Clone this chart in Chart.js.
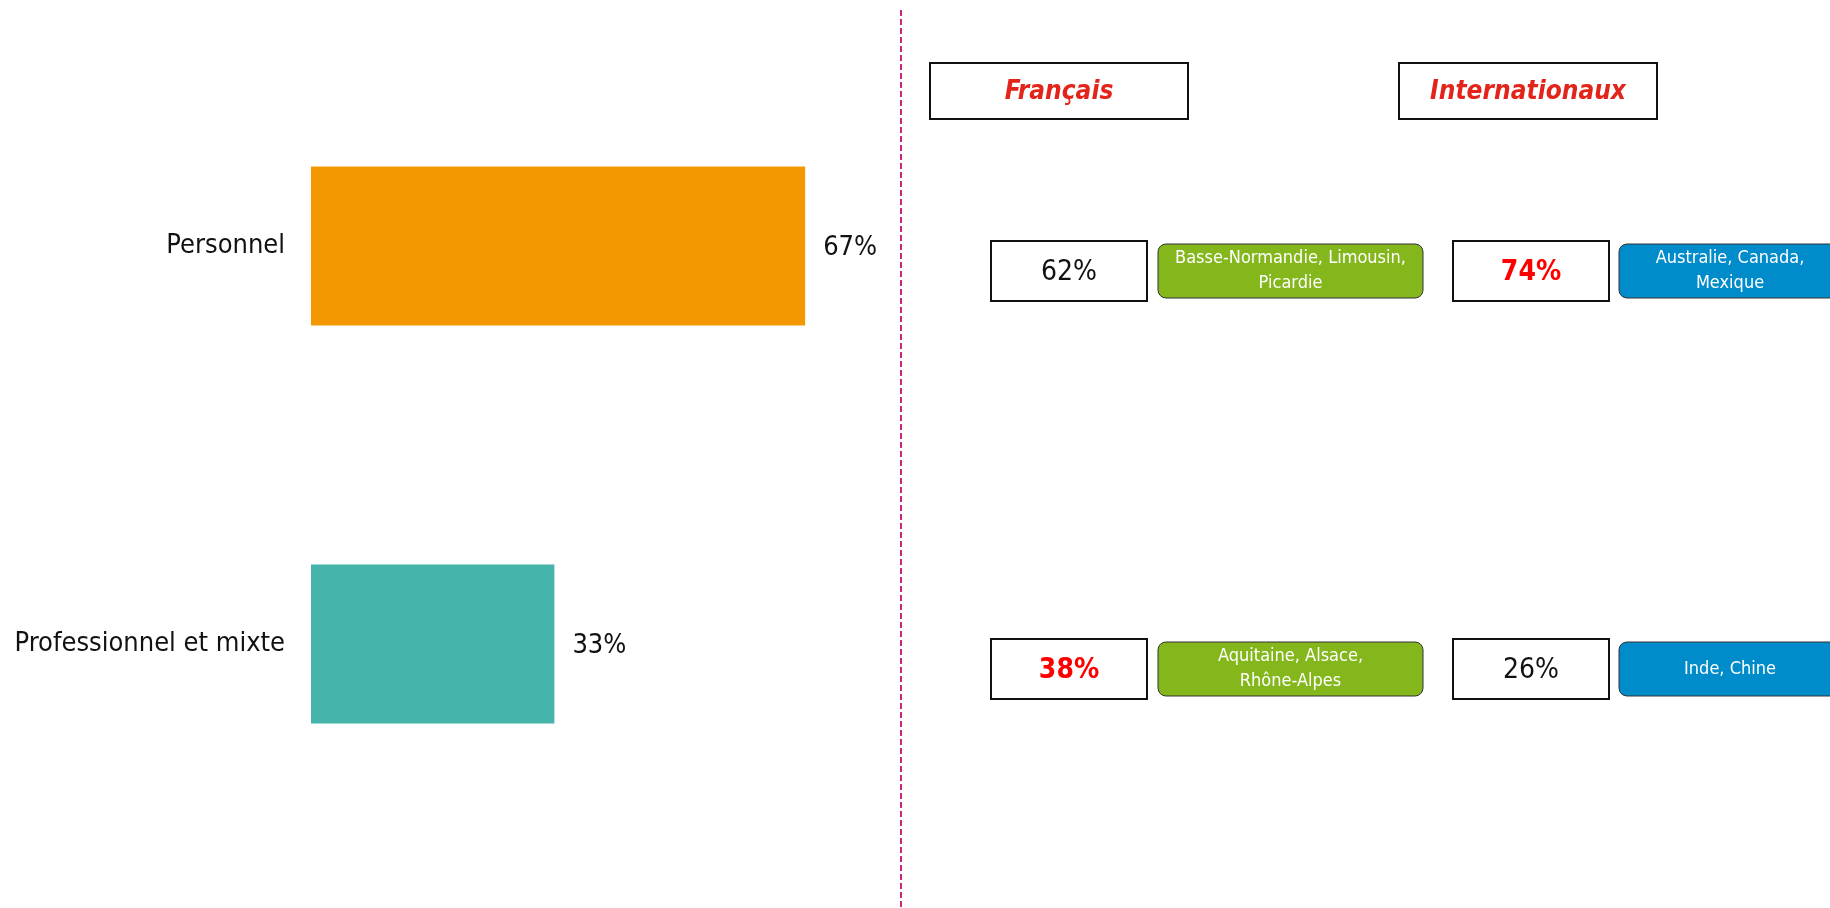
<!DOCTYPE html>
<html lang="fr">
<head>
<meta charset="UTF-8">
<title>Chart</title>
<script src="https://cdn.jsdelivr.net/npm/chart.js@4.4.1/dist/chart.umd.min.js"></script>
<style>
  body { margin: 0; background: #fff; }
  #wrap { width: 1830px; height: 908px; }
</style>
</head>
<body>
<div id="wrap"><canvas id="myChart" width="1830" height="908"></canvas></div>
<script>
// left chart
const categories = ['Personnel', 'Professionnel et mixte'];
const shares = [67, 33];
const barColors = ['#f39800', '#45b5ab'];

// right panel
const groups = ['Français', 'Internationaux'];
const frValues = [62, 38];
const frRegions = [['Basse-Normandie, Limousin,', 'Picardie'], ['Aquitaine, Alsace,', 'Rhône-Alpes']];
const intlValues = [74, 26];
const intlCountries = [['Australie, Canada,', 'Mexique'], ['Inde, Chine']];

const FONT = "'DejaVu Sans Condensed', 'Liberation Sans Narrow', 'DejaVu Sans', sans-serif";

// percent labels at the end of each bar
const valueLabels = {
    id: 'valueLabels',
    afterDatasetsDraw(chart) {
        const ctx = chart.ctx;
        const meta = chart.getDatasetMeta(0);
        ctx.save();
        ctx.font = '27px ' + FONT;
        ctx.fillStyle = '#111';
        ctx.textAlign = 'left';
        ctx.textBaseline = 'middle';
        meta.data.forEach((bar, i) => {
            ctx.fillText(shares[i] + '%', bar.x + 18, bar.y + 2);
        });
        ctx.restore();
    }
};

function box(ctx, x, y, w, h, r, fill, stroke, lw) {
    ctx.beginPath();
    if (r > 0) ctx.roundRect(x, y, w, h, r); else ctx.rect(x, y, w, h);
    if (fill) { ctx.fillStyle = fill; ctx.fill(); }
    if (stroke) { ctx.strokeStyle = stroke; ctx.lineWidth = lw; ctx.stroke(); }
}

// divider + comparison boxes on the right
const panel = {
    id: 'panel',
    afterDraw(chart) {
        const ctx = chart.ctx;
        const yScale = chart.scales.y;
        const left = chart.chartArea.right;
        ctx.save();

        ctx.strokeStyle = '#c9287f';
        ctx.lineWidth = 2;
        ctx.setLineDash([6, 3]);
        ctx.beginPath();
        ctx.moveTo(left, 10);
        ctx.lineTo(left, chart.height);
        ctx.stroke();
        ctx.setLineDash([]);

        const cols = [
            { head: 29, value: 90, tag: 257, tagW: 265, values: frValues, tags: frRegions, color: '#84b71c' },
            { head: 498, value: 552, tag: 718, tagW: 222, values: intlValues, tags: intlCountries, color: '#008bca' }
        ];

        cols.forEach((c, k) => {
            box(ctx, left + c.head, 63, 258, 56, 0, '#fff', '#111', 2);
            ctx.font = 'italic bold 26px ' + FONT;
            ctx.fillStyle = '#e3241b';
            ctx.textAlign = 'center';
            ctx.textBaseline = 'middle';
            ctx.fillText(groups[k], left + c.head + 129, 92);

            categories.forEach((cat, i) => {
                const cy = yScale.getPixelForValue(i) + 25;
                const other = cols[1 - k].values[i];
                const win = c.values[i] > other;

                box(ctx, left + c.value, cy - 30, 156, 60, 0, '#fff', '#111', 2);
                ctx.font = (win ? 'bold ' : '') + '28px ' + FONT;
                ctx.fillStyle = win ? '#ff0000' : '#111';
                ctx.textAlign = 'center';
                ctx.fillText(c.values[i] + '%', left + c.value + 78, cy + 2);

                box(ctx, left + c.tag, cy - 27, c.tagW, 54, 8, c.color, '#333', 1);
                ctx.font = '18px ' + FONT;
                ctx.fillStyle = '#fff';
                const lines = c.tags[i];
                lines.forEach((t, j) => {
                    ctx.fillText(t, left + c.tag + c.tagW / 2, cy + (j - (lines.length - 1) / 2) * 25);
                });
            });
        });
        ctx.restore();
    }
};

const ctx = document.getElementById('myChart').getContext('2d');
const myChart = new Chart(ctx, {
    type: 'bar',
    data: {
        labels: categories,
        datasets: [{
            data: shares,
            backgroundColor: barColors,
            borderWidth: 0,
            barPercentage: 0.4,
            categoryPercentage: 1
        }]
    },
    options: {
        indexAxis: 'y',
        responsive: false,
        animation: false,
        devicePixelRatio: 1,
        layout: { padding: { left: 0, right: 929, top: 47, bottom: 65 } },
        plugins: { legend: { display: false }, tooltip: { enabled: false } },
        scales: {
            x: { min: 0, max: 80, display: false },
            y: {
                grid: { display: false, drawTicks: false },
                border: { display: false },
                afterFit(scale) { scale.width = 311; },
                ticks: { padding: 26, color: '#111', font: { size: 27, family: FONT } }
            }
        }
    },
    plugins: [valueLabels, panel]
});
</script>
</body>
</html>
